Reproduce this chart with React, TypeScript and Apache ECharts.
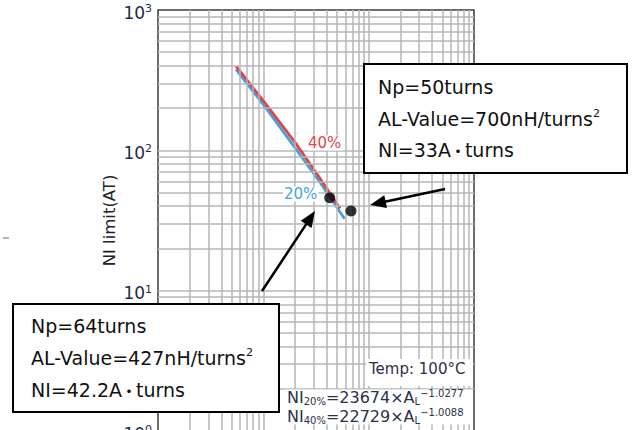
import React, { useEffect, useRef } from "react";
import * as echarts from "echarts";

// ---- data ----
const alRange = [10, 10000];
const niRange = [1, 1000];
const curve40AL = [55, 104, 200, 346, 535];
const curve40NI = [398, 217, 114, 63, 38.5];
const curve20AL = [55, 104, 200, 346, 590];
const curve20NI = [378, 204, 104, 59, 32.5];
const pointAL = [427, 680];
const pointNI = [46, 37];
const minorFactors = [2, 3, 4, 5, 6, 7, 8, 9];
const xDecades = [10, 100, 1000];
const yDecades = [1, 10, 100];

const box1Lines = ["Np=50turns", "AL-Value=700nH/turns", "NI=33A", "turns"];
const box2Lines = ["Np=64turns", "AL-Value=427nH/turns", "NI=42.2A", "turns"];
const tempLabel = "Temp: 100°C";
const formula20 = ["NI", "20%", "=23674×A", "L", "−1.0277"];
const formula40 = ["NI", "40%", "=22729×A", "L", "−1.0088"];

const FONT = "DejaVu Sans";
const BOX_FS = 19;

const xMinor = xDecades.flatMap((d) => minorFactors.map((f) => f * d));
const yMinor = yDecades.flatMap((d) => minorFactors.map((f) => f * d));

function zip(a: number[], b: number[]) {
  return a.map((v, i) => [v, b[i]]);
}

function boxElements(x: number, y: number, w: number, h: number, lines: string[], tx: number, rows: number[]) {
  const baseRich = {
    a: { fontFamily: FONT, fontSize: BOX_FS, lineHeight: 22, fill: "#111" },
    s: { fontFamily: FONT, fontSize: 11, lineHeight: 19, verticalAlign: "top", fill: "#111" },
    d: { fontFamily: "Noto Sans CJK JP", fontSize: 14, fontWeight: "bold", lineHeight: 22, fill: "#111" },
  };
  const texts = [
    `{a|${lines[0]}}`,
    `{a|${lines[1]}}{s|2}`,
    `{a|${lines[2]}}{d|・}{a|${lines[3]}}`,
  ];
  const els: any[] = [
    {
      type: "rect",
      z: 100,
      shape: { x, y, width: w, height: h },
      style: { fill: "#fff", stroke: "#000", lineWidth: 2 },
    },
  ];
  texts.forEach((t, i) => {
    els.push({
      type: "text",
      z: 101,
      x: tx,
      y: rows[i],
      style: { text: t, align: "left", verticalAlign: "middle", rich: baseRich },
    });
  });
  return els;
}

function formulaText(parts: string[], x: number, y: number) {
  const col = "#2b3147";
  return {
    type: "text",
    z: 101,
    x,
    y,
    style: {
      text: `{b|${parts[0]}}{s|${parts[1]}}{b|${parts[2]}}{s|${parts[3]}}{p|${parts[4]}}`,
      align: "left",
      verticalAlign: "middle",
      rich: {
        b: { fontFamily: FONT, fontSize: 16, lineHeight: 18, fill: col },
        s: { fontFamily: FONT, fontSize: 10, lineHeight: 10, verticalAlign: "bottom", fill: col },
        p: { fontFamily: FONT, fontSize: 10, lineHeight: 10, verticalAlign: "top", fill: col },
      },
    },
  };
}

function arrow(x1: number, y1: number, tx: number, ty: number) {
  const dx = tx - x1;
  const dy = ty - y1;
  const len = Math.hypot(dx, dy);
  const ux = dx / len;
  const uy = dy / len;
  const hl = 16;
  const hw = 6.5;
  const bx = tx - ux * hl;
  const by = ty - uy * hl;
  return [
    {
      type: "line",
      z: 100,
      shape: { x1, y1, x2: bx + ux * 2, y2: by + uy * 2 },
      style: { stroke: "#000", lineWidth: 2.5 },
    },
    {
      type: "polygon",
      z: 100,
      shape: {
        points: [
          [tx, ty],
          [bx - uy * hw, by + ux * hw],
          [bx + uy * hw, by - ux * hw],
        ],
      },
      style: { fill: "#000" },
    },
  ];
}

export default function App() {
  const ref = useRef<HTMLDivElement>(null);
  useEffect(() => {
    const chart = echarts.init(ref.current!, undefined, { renderer: "svg" });
    const gridColor = "#b6b6b6";
    const gridWidth = 1.5;
    const labelColor = "#1f2c4a";
    const option: any = {
      animation: false,
      textStyle: { fontFamily: FONT },
      grid: {
        left: 158,
        top: 10,
        width: 316,
        height: 421,
        outerBoundsMode: "none",
        containLabel: false,
        show: true,
        borderColor: "#3c3c3c",
        borderWidth: 1.5,
        backgroundColor: "transparent",
      },
      xAxis: {
        type: "log",
        logBase: 10,
        min: alRange[0],
        max: alRange[1],
        axisLine: { show: false },
        axisTick: { show: false },
        axisLabel: { show: false },
        splitLine: {
          show: true,
          showMinLine: false,
          showMaxLine: false,
          lineStyle: { color: gridColor, width: gridWidth },
        },
      },
      yAxis: {
        type: "log",
        logBase: 10,
        min: niRange[0],
        max: niRange[1],
        name: "NI limit(AT)",
        nameLocation: "middle",
        nameRotate: 90,
        nameGap: 40,
        nameTextStyle: { fontFamily: FONT, fontSize: 16.5, color: "#222" },
        axisLine: { show: false },
        axisTick: { show: false },
        axisLabel: {
          margin: 6,
          padding: [5, 0, 0, 0],
          formatter: (v: number) => `{b|10}{s|${Math.round(Math.log10(v))}}`,
          rich: {
            b: { fontFamily: FONT, fontSize: 17, lineHeight: 19, color: labelColor },
            s: { fontFamily: FONT, fontSize: 11, lineHeight: 12, verticalAlign: "top", color: labelColor },
          },
        },
        splitLine: {
          show: true,
          showMinLine: false,
          showMaxLine: false,
          lineStyle: { color: gridColor, width: gridWidth },
        },
      },
      series: [
        {
          name: "grid",
          type: "line",
          data: [],
          z: 1,
          silent: true,
          markLine: {
            silent: true,
            animation: false,
            symbol: ["none", "none"],
            label: { show: false },
            emphasis: { disabled: true },
            lineStyle: { color: gridColor, width: gridWidth, type: "solid" },
            data: [
              ...xMinor.map((v) => ({ xAxis: v })),
              ...yMinor.map((v) => ({ yAxis: v })),
            ],
          },
        },
        {
          name: "20%",
          type: "line",
          data: zip(curve20AL, curve20NI),
          showSymbol: false,
          symbol: "none",
          z: 3,
          lineStyle: { color: "#3ea6dc", width: 2.8 },
        },
        {
          name: "40%",
          type: "line",
          data: zip(curve40AL, curve40NI),
          showSymbol: false,
          symbol: "none",
          z: 4,
          lineStyle: { color: "#e0454b", width: 2.8 },
        },
        {
          name: "points",
          type: "scatter",
          data: zip(pointAL, pointNI),
          symbolSize: 11,
          z: 5,
          itemStyle: { color: "#000" },
        },
      ],
      graphic: [
        {
          type: "text",
          z: 100,
          x: 307,
          y: 143,
          style: {
            text: "40%",
            fontFamily: FONT,
            fontSize: 15,
            fill: "#e0454b",
            align: "left",
            verticalAlign: "middle",
            backgroundColor: "#fff",
            padding: [0, 1],
          },
        },
        {
          type: "text",
          z: 100,
          x: 283,
          y: 194,
          style: {
            text: "20%",
            fontFamily: FONT,
            fontSize: 15,
            fill: "#3ea6dc",
            align: "left",
            verticalAlign: "middle",
            backgroundColor: "#fff",
            padding: [0, 1],
          },
        },
        ...arrow(445, 189, 370, 205),
        ...arrow(262, 291, 315, 211),
        ...boxElements(364, 64, 263, 109, box1Lines, 378, [87, 118.5, 150]),
        ...boxElements(13, 304, 266, 108, box2Lines, 31, [326, 357.5, 389.5]),
        {
          type: "rect",
          z: 99,
          shape: { x: 366, y: 359, width: 107, height: 27 },
          style: { fill: "#fff" },
        },
        {
          type: "text",
          z: 101,
          x: 369,
          y: 369,
          style: {
            text: tempLabel,
            fontFamily: FONT,
            fontSize: 15,
            fill: "#2b3147",
            align: "left",
            verticalAlign: "middle",
          },
        },
        {
          type: "rect",
          z: 99,
          shape: { x: 284, y: 389.5, width: 189, height: 35 },
          style: { fill: "#fff" },
        },
        formulaText(formula20, 287, 397),
        formulaText(formula40, 287, 416),
        {
          type: "line",
          z: 100,
          shape: { x1: 3, y1: 238, x2: 9, y2: 238 },
          style: { stroke: "#666", lineWidth: 1 },
        },
      ],
    };
    chart.setOption(option);
    return () => chart.dispose();
  }, []);
  return (
    <div
      ref={ref}
      style={{ width: 633, height: 430, position: "absolute", left: 0, top: 0 }}
    />
  );
}
